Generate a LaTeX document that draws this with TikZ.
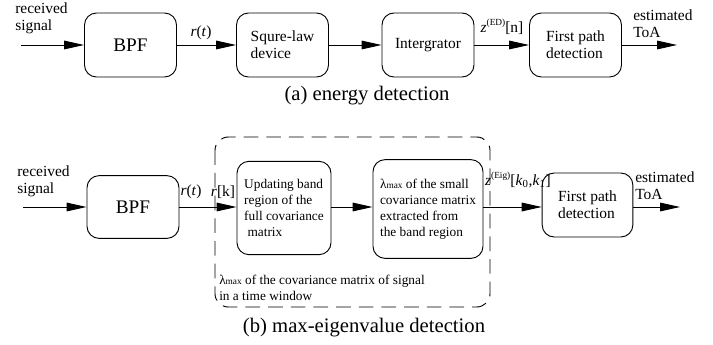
\documentclass[tikz,border=0pt]{standalone}
\usepackage{fontspec}
\setmainfont{Liberation Serif}
\usetikzlibrary{arrows.meta}

\tikzset{
  blk/.style={draw, line width=0.7pt, rounded corners=9pt, inner sep=0pt},
  flow/.style={line width=0.7pt, -{Triangle[length=15pt,width=6.5pt]}},
  txt/.style={inner sep=0pt, align=left, font=\fontsize{11.6}{13}\selectfont},
  small/.style={inner sep=0pt, align=left, font=\fontsize{10}{12}\selectfont},
  capt/.style={inner sep=0pt, font=\fontsize{15.5}{17}\selectfont},
  window/.style={line width=0.7pt, dash pattern=on 11pt off 6pt, rounded corners=10pt}
}
\newcommand{\lmax}{λ{\fontsize{7}{7}\selectfont max}}

\begin{document}
\begin{tikzpicture}[x=0.75pt, y=-0.75pt]
    \useasboundingbox (0,0) rectangle (713,345);

    \node at (130.5, 45) (bpfA) [blk, minimum width=69pt, minimum height=48pt, font=\fontsize{14.4}{17}\selectfont] {BPF};
    \node at (282.5, 45) (sqA)  [blk, minimum width=69pt, minimum height=48pt, txt] {Squre-law\\device};
    \node at (428,   45) (intA) [blk, minimum width=69pt, minimum height=48pt, txt] {Intergrator};
    \node at (575.5, 45) (fpA)  [blk, minimum width=69pt, minimum height=48pt, txt] {First path\\detection};

    \node at (15,  18.5) (inAtxt)  [txt, anchor=west] {received\\signal};
    \node at (633, 24)   (outAtxt) [txt, anchor=west] {estimated\\ToA};
    \coordinate (inA)  at (21, 45);
    \coordinate (outA) at (677, 45);

    \node at (201, 33) (rtA) [txt] {\textit{r}(\textit{t})};
    \node at (502, 27) (zA)  [txt] {\textit{z}\raisebox{5pt}{\fontsize{7}{7}\selectfont (ED)}[n]};

    \draw[flow] (inA) -- (bpfA);
    \draw[flow] (bpfA) -- (sqA);
    \draw[flow] (sqA) -- (intA);
    \draw[flow] (intA) -- (fpA);
    \draw[flow] (fpA) -- (outA);

    \node at (367, 96) (captA) [capt] {(a) energy detection};

    \draw[window] (215,137) rectangle (490,307);

    \node at (133,   207) (bpfB) [blk, minimum width=69pt, minimum height=47pt, font=\fontsize{14.4}{17}\selectfont] {BPF};
    \node at (284,   208) (updB) [blk, minimum width=70.5pt, minimum height=70pt, small] {Updating band\\region of the\\full covariance\\\hspace{0.25em}matrix};
    \node at (428,   209) (lamB) [blk, minimum width=82.5pt, minimum height=74pt, small] {\lmax{} of the small\\covariance matrix\\extracted from\\the band region};
    \node at (587.5, 205) (fpB)  [blk, minimum width=68pt, minimum height=48pt, txt] {First path\\detection};

    \node at (17,  181) (inBtxt)  [txt, anchor=west] {received\\signal};
    \node at (635, 186) (outBtxt) [txt, anchor=west] {estimated\\ToA};
    \coordinate (inB)  at (23, 207);
    \coordinate (outB) at (680, 207);

    \node at (191, 192) (rtB) [txt] {\textit{r}(\textit{t})};
    \node at (223, 192) (rkB) [txt] {\textit{r}[k]};
    \node at (518, 180) (zB)  [txt] {\textit{z}\raisebox{5pt}{\fontsize{7}{7}\selectfont (Eig)}[\textit{k}\textsubscript{0},\textit{k}\textsubscript{1}]};

    \draw[flow] (inB) -- (inB -| bpfB.west);
    \draw[flow] (bpfB.east) -- (bpfB.east -| updB.west);
    \draw[flow] (updB.east |- bpfB.east) -- (bpfB.east -| lamB.west);
    \draw[flow] (lamB.east |- bpfB.east) -- (bpfB.east -| fpB.west);
    \draw[flow] (fpB.east |- bpfB.east) -- (outB);

    \node at (219, 288) (winB) [small, anchor=west] {\lmax{} of the covariance matrix of signal\\in a time window};

    \node at (364, 328) (captB) [capt] {(b) max-eigenvalue detection};
\end{tikzpicture}
\end{document}
